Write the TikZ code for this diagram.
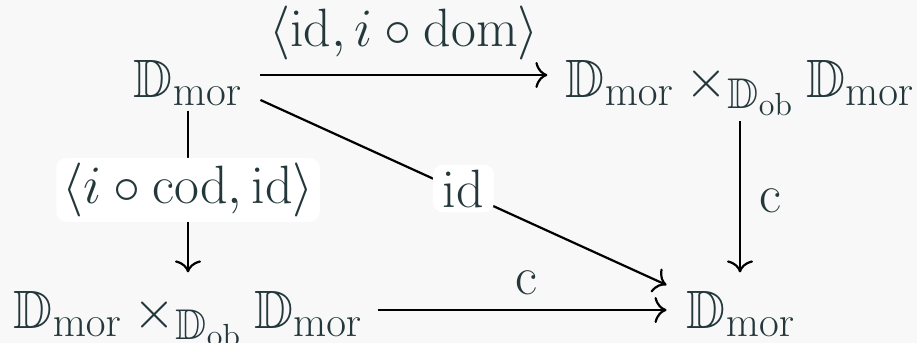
\RequirePackage{fix-cm}
\documentclass[tikz,border=0pt]{standalone}
\usepackage{amsmath,amssymb}
\usetikzlibrary{arrows.meta,calc}
\DeclareMathSizes{27}{27}{21.5}{16}
\definecolor{bgc}{RGB}{248,248,248}
\definecolor{txt}{RGB}{36,56,60}
\newcommand{\Dm}{\mathbb{D}_{\mathrm{mor}}}
\newcommand{\pb}{\Dm \times_{\mathbb{D}_{\mathrm{ob}}} \Dm}
\tikzset{
  obj/.style={inner sep=0pt, text=txt, font=\fontsize{27}{32}\selectfont, anchor=base},
  lab/.style={inner sep=0pt, text=txt, font=\fontsize{27}{32}\selectfont},
  desc/.style={lab, fill=white, rounded corners=5pt, inner xsep=3pt, inner ysep=2.5pt},
  arr/.style={draw=black, line width=1.1pt, -{Computer Modern Rightarrow[length=6pt, width=13pt, line width=1.1pt]}}
}
\begin{document}
\begin{tikzpicture}[x=0.5pt, y=-0.5pt]
\useasboundingbox[fill=bgc] (0,0) rectangle (917,343);
\node[obj] (A) at (188,97) {$\Dm$};
\node[obj] (B) at (740,97) {$\pb$};
\node[obj] (C) at (188,328) {$\pb$};
\node[obj] (D) at (741,328) {$\Dm$};
\draw[arr] ([shift={(9pt,11pt)}]A.base east) -- node[lab, anchor=base, yshift=14.5pt] (lAB) {$\langle \mathrm{id}, i\circ\mathrm{dom}\rangle$} ([shift={(-9pt,11pt)}]B.base west);
\draw[arr] ([shift={(7.5pt,9pt)}]C.base east) -- node[lab, anchor=base, yshift=8pt, xshift=2pt] (lCD) {$\mathrm{c}$} ([shift={(-10pt,9pt)}]D.base west);
\draw[arr, shorten <=2.5pt, shorten >=9pt] (A.south) -- (A.south |- C.north);
\draw[arr, shorten <=2.5pt, shorten >=9pt] (B.south) -- node[lab, right=9pt, yshift=1pt] (lBD) {$\mathrm{c}$} (B.south |- D.north);
\draw[arr] ([shift={(9pt,-1.5pt)}]A.base east) -- node[desc, inner xsep=5pt, yshift=2pt] (lAD) {$\mathrm{id}$} ([shift={(-10pt,21.5pt)}]D.base west);
\node[desc, yshift=4pt] (lAC) at ($(A.south)!0.5!(A.south |- C.north)$) {$\langle i\circ\mathrm{cod}, \mathrm{id}\rangle$};
\end{tikzpicture}
\end{document}
